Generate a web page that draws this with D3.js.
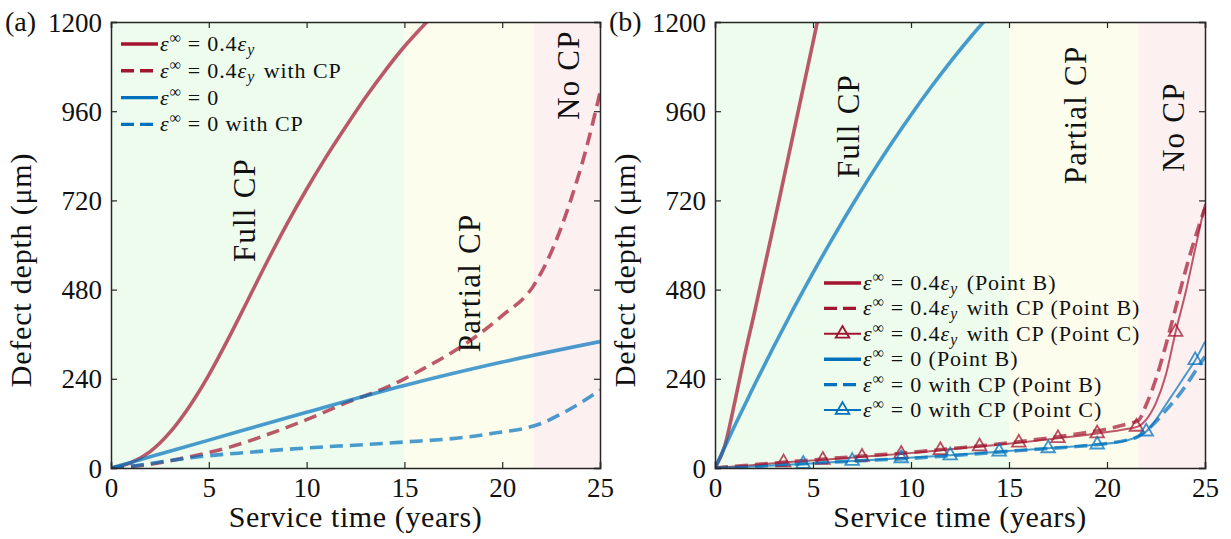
<!DOCTYPE html>
<html>
<head>
<meta charset="utf-8">
<title>Defect depth vs service time</title>
<script src="https://d3js.org/d3.v7.min.js"></script>
<style>
    body { margin: 0; background: #fff; }
    svg text { font-family: "Liberation Serif", "DejaVu Serif", serif; fill: #111; }
</style>
</head>
<body>
<svg id="chart" width="1231" height="539"></svg>
<script>
// ---- data ----
const xTicks = [0, 5, 10, 15, 20, 25];
const yTicks = [0, 240, 480, 720, 960, 1200];
const zoneEdges = [0, 15, 21.6, 25];
const zoneNames = ["Full CP", "Partial CP", "No CP"];
const zoneColors = ["#edfced", "#fdfdee", "#fdf0f1"];

// panel (a)
const aRedT = [0, 1, 2, 3, 4, 5, 6, 7, 8, 9, 10, 11, 12, 13, 14, 15, 16, 16.5];
const aRedV = [0, 14, 44, 95, 165, 250, 348, 452, 557, 657, 750, 837, 918, 996, 1068, 1134, 1192, 1220];
const aRedCpT = [0, 2, 4, 6, 8, 10, 12, 14, 15, 16, 18, 20, 21.6, 22.5, 23.5, 24.3, 25];
const aRedCpV = [0, 10, 30, 55, 90, 130, 175, 215, 240, 268, 330, 410, 490, 580, 720, 860, 1010];
const aBlueT = [0, 1, 2, 5, 10, 15, 20, 25];
const aBlueV = [0, 15, 30, 75, 150, 222, 285, 340];
const aBlueCpT = [0, 1, 2, 3, 5, 7, 10, 13, 15, 18, 20, 21, 22, 23, 24, 25];
const aBlueCpV = [0, 5, 12, 20, 33, 42, 54, 63, 70, 82, 97, 105, 120, 145, 175, 210];

// panel (b)
const bRedT = [0, 0.5, 1, 1.5, 2, 3, 4, 5, 5.3];
const bRedV = [0, 60, 175, 300, 415, 655, 900, 1145, 1220];
const bRedCpT = [0, 2, 5, 8, 10, 12, 14, 16, 18, 20, 21, 21.6, 22, 22.5, 23, 23.5, 24, 24.5, 25];
const bRedCpV = [0, 9, 22, 34, 42, 52, 62, 74, 88, 105, 118, 128, 170, 240, 330, 430, 530, 620, 700];
const bRedCT = [0, 1, 2, 3.5, 5.5, 7.5, 9.5, 11.5, 13.5, 15.5, 17.5, 19.5, 21, 21.6, 22, 22.5, 23, 23.5, 24, 24.5, 25];
const bRedCV = [0, 4, 8, 15, 22, 30, 38, 48, 58, 68, 80, 93, 105, 112, 130, 175, 250, 366, 470, 590, 710];
const bRedCMarks = [3.5, 5.5, 7.5, 9.5, 11.5, 13.5, 15.5, 17.5, 19.5, 21.5, 23.5];
const bBlueT = [0, 1, 2, 3, 4, 5, 6, 7, 8, 9, 10, 11, 12, 13, 14];
const bBlueV = [0, 113, 222, 327, 428, 525, 618, 707, 792, 873, 950, 1023, 1092, 1157, 1218];
const bBlueCpT = [0, 2, 5, 8, 10, 12, 14, 16, 18, 20, 21, 21.6, 22, 22.5, 23, 23.5, 24, 24.5, 25];
const bBlueCpV = [0, 4, 13, 21, 26, 33, 41, 49, 56, 66, 75, 85, 100, 125, 155, 185, 220, 260, 300];
const bBlueCT = [0, 2, 4.5, 7, 9.5, 12, 14.5, 17, 19.5, 21, 21.6, 22, 22.5, 23, 23.5, 24, 24.5, 25];
const bBlueCV = [0, 4, 11, 19, 26, 34, 44, 53, 63, 74, 85, 98, 130, 170, 210, 250, 290, 340];
const bBlueCMarks = [4.5, 7, 9.5, 12, 14.5, 17, 19.5, 22, 24.5];

const RED = "#a2142f", BLUE = "#0072bd";

const svg = d3.select("#chart");
const plotTop = 22, plotBottom = 468;

function zip(t, v) { return t.map((d, i) => [d, v[i]]); }

// label pieces: ε^∞ = ... with tspans
function eqLabel(sel, rest, tail) {
    sel.append("tspan").attr("font-style", "italic").text("ε");
    sel.append("tspan").attr("font-size", "0.72em").attr("dy", -8).text("∞");
    sel.append("tspan").attr("dy", 8).attr("dx", 6).text("=");
    sel.append("tspan").attr("dx", 6).text(rest);
    if (tail.eps) {
        sel.append("tspan").attr("font-style", "italic").text("ε");
        sel.append("tspan").attr("font-style", "italic").attr("font-size", "0.72em").attr("dy", 4).text("y");
        sel.append("tspan").attr("dy", -4).attr("dx", 2).text(tail.text);
    } else {
        sel.append("tspan").text(tail.text);
    }
}

function panel(opts) {
    const x = d3.scaleLinear().domain([0, 25]).range([opts.left, opts.right]);
    const y = d3.scaleLinear().domain([0, 1200]).range([plotBottom, plotTop]);
    const g = svg.append("g");
    const clipId = "clip" + opts.id;
    g.append("clipPath").attr("id", clipId).append("rect")
        .attr("x", opts.left).attr("y", plotTop)
        .attr("width", opts.right - opts.left).attr("height", plotBottom - plotTop);

    // zones
    g.selectAll(".zone").data(d3.range(3)).enter().append("rect")
        .attr("x", i => x(zoneEdges[i])).attr("y", plotTop)
        .attr("width", i => x(zoneEdges[i + 1]) - x(zoneEdges[i]))
        .attr("height", plotBottom - plotTop)
        .attr("fill", i => zoneColors[i]);

    // zone labels
    g.selectAll(".zlab").data(opts.zoneLabelPos).enter().append("text")
        .attr("transform", (p) => `translate(${x(p[0])},${y(p[1])}) rotate(-90)`)
        .attr("text-anchor", "middle").attr("dominant-baseline", "central")
        .attr("font-size", 31).attr("letter-spacing", 1.2)
        .text((p, i) => zoneNames[i]);

    const line = d3.line().x(d => x(d[0])).y(d => y(d[1])).curve(d3.curveMonotoneX);
    const lines = g.append("g").attr("clip-path", `url(#${clipId})`);
    opts.series.forEach(s => {
        lines.append("path").attr("d", line(zip(s.t, s.v)))
            .attr("fill", "none").attr("stroke", s.color)
            .attr("stroke-opacity", 0.7)
            .attr("stroke-width", s.w)
            .attr("stroke-dasharray", s.dash ? "13,7" : null);
        if (s.marks) {
            const interp = d3.scaleLinear().domain(s.t).range(s.v);
            lines.selectAll(null).data(s.marks).enter().append("path")
                .attr("d", d3.symbol(d3.symbolTriangle, 80)())
                .attr("transform", m => `translate(${x(m)},${y(interp(m))})`)
                .attr("fill", "none").attr("stroke", s.color)
                .attr("stroke-opacity", 0.75).attr("stroke-width", 1.8);
        }
    });

    // axes box with inward ticks
    const axCol = "#262626";
    const bx = d3.axisBottom(x).tickValues(xTicks).tickSize(-6).tickPadding(12).tickFormat(d3.format("d"));
    const tx = d3.axisTop(x).tickValues(xTicks).tickSize(-6).tickFormat("");
    const ly = d3.axisLeft(y).tickValues(yTicks).tickSize(-6).tickPadding(9).tickFormat(d3.format("d"));
    const ry = d3.axisRight(y).tickValues(yTicks).tickSize(-6).tickFormat("");
    const gx = g.append("g").attr("transform", `translate(0,${plotBottom})`).call(bx);
    g.append("g").attr("transform", `translate(0,${plotTop})`).call(tx);
    const gy = g.append("g").attr("transform", `translate(${opts.left},0)`).call(ly);
    g.append("g").attr("transform", `translate(${opts.right},0)`).call(ry);
    g.selectAll(".domain").attr("stroke", axCol).attr("stroke-width", 1.5);
    g.selectAll(".tick line").attr("stroke", axCol).attr("stroke-width", 1.2);
    g.selectAll(".tick text").attr("font-size", 27).attr("fill", "#111");
    gx.selectAll(".tick text").attr("dy", "0.62em");
    gy.selectAll(".tick text").attr("dy", "0.34em");

    // axis titles
    g.append("text").attr("x", (opts.left + opts.right) / 2).attr("y", 527)
        .attr("text-anchor", "middle").attr("font-size", 30).attr("letter-spacing", 0.6)
        .text("Service time (years)");
    g.append("text").attr("transform", `translate(${opts.left - 80},${(plotTop + plotBottom) / 2 + 25}) rotate(-90)`)
        .attr("text-anchor", "middle").attr("font-size", 30).attr("letter-spacing", 0.8)
        .text("Defect depth (μm)");
    g.append("text").attr("x", opts.left - 106).attr("y", 31)
        .attr("font-size", 28).text(opts.tag);

    // legend
    const lg = g.append("g");
    opts.legend.forEach((e, i) => {
        const yy = opts.legY + i * opts.legStep;
        lg.append("line").attr("x1", opts.legX).attr("x2", opts.legX + 37)
            .attr("y1", yy).attr("y2", yy)
            .attr("stroke", e.color).attr("stroke-width", e.w)
            .attr("stroke-dasharray", e.dash ? "13,6" : null);
        if (e.mark) {
            lg.append("path").attr("d", d3.symbol(d3.symbolTriangle, 80)())
                .attr("transform", `translate(${opts.legX + 18.5},${yy})`)
                .attr("fill", "none").attr("stroke", e.color).attr("stroke-width", 1.8);
        }
        const t = lg.append("text").attr("x", opts.legX + 39).attr("y", yy + 7)
            .attr("font-size", 22).attr("letter-spacing", 0.95);
        eqLabel(t, e.rest, e.tail);
    });
}

panel({
    id: "a", tag: "(a)", left: 111, right: 600,
    zoneLabelPos: [[6.85, 694], [18.35, 498], [23.4, 1057]],
    series: [
        { t: aRedT, v: aRedV, color: RED, w: 3.6 },
        { t: aRedCpT, v: aRedCpV, color: RED, w: 3.6, dash: true },
        { t: aBlueT, v: aBlueV, color: BLUE, w: 3.6 },
        { t: aBlueCpT, v: aBlueCpV, color: BLUE, w: 3.6, dash: true }
    ],
    legX: 121, legY: 44, legStep: 26.8,
    legend: [
        { color: RED, w: 3.4, rest: "0.4", tail: { eps: true, text: "" } },
        { color: RED, w: 3.4, dash: true, rest: "0.4", tail: { eps: true, text: " with CP" } },
        { color: BLUE, w: 3.4, rest: "0", tail: { text: "" } },
        { color: BLUE, w: 3.4, dash: true, rest: "0", tail: { text: " with CP" } }
    ]
});

panel({
    id: "b", tag: "(b)", left: 715, right: 1205,
    zoneLabelPos: [[6.8, 920], [18.4, 950], [23.4, 917]],
    series: [
        { t: bRedT, v: bRedV, color: RED, w: 3.6 },
        { t: bBlueT, v: bBlueV, color: BLUE, w: 3.6 },
        { t: bRedCpT, v: bRedCpV, color: RED, w: 3.6, dash: true },
        { t: bBlueCpT, v: bBlueCpV, color: BLUE, w: 3.6, dash: true },
        { t: bRedCT, v: bRedCV, color: RED, w: 2, marks: bRedCMarks },
        { t: bBlueCT, v: bBlueCV, color: BLUE, w: 2, marks: bBlueCMarks }
    ],
    legX: 824, legY: 283, legStep: 25.4,
    legend: [
        { color: RED, w: 3.4, rest: "0.4", tail: { eps: true, text: " (Point B)" } },
        { color: RED, w: 3.4, dash: true, rest: "0.4", tail: { eps: true, text: " with CP (Point B)" } },
        { color: RED, w: 2, mark: true, rest: "0.4", tail: { eps: true, text: " with CP (Point C)" } },
        { color: BLUE, w: 3.4, rest: "0", tail: { text: " (Point B)" } },
        { color: BLUE, w: 3.4, dash: true, rest: "0", tail: { text: " with CP (Point B)" } },
        { color: BLUE, w: 2, mark: true, rest: "0", tail: { text: " with CP (Point C)" } }
    ]
});
</script>
</body>
</html>
